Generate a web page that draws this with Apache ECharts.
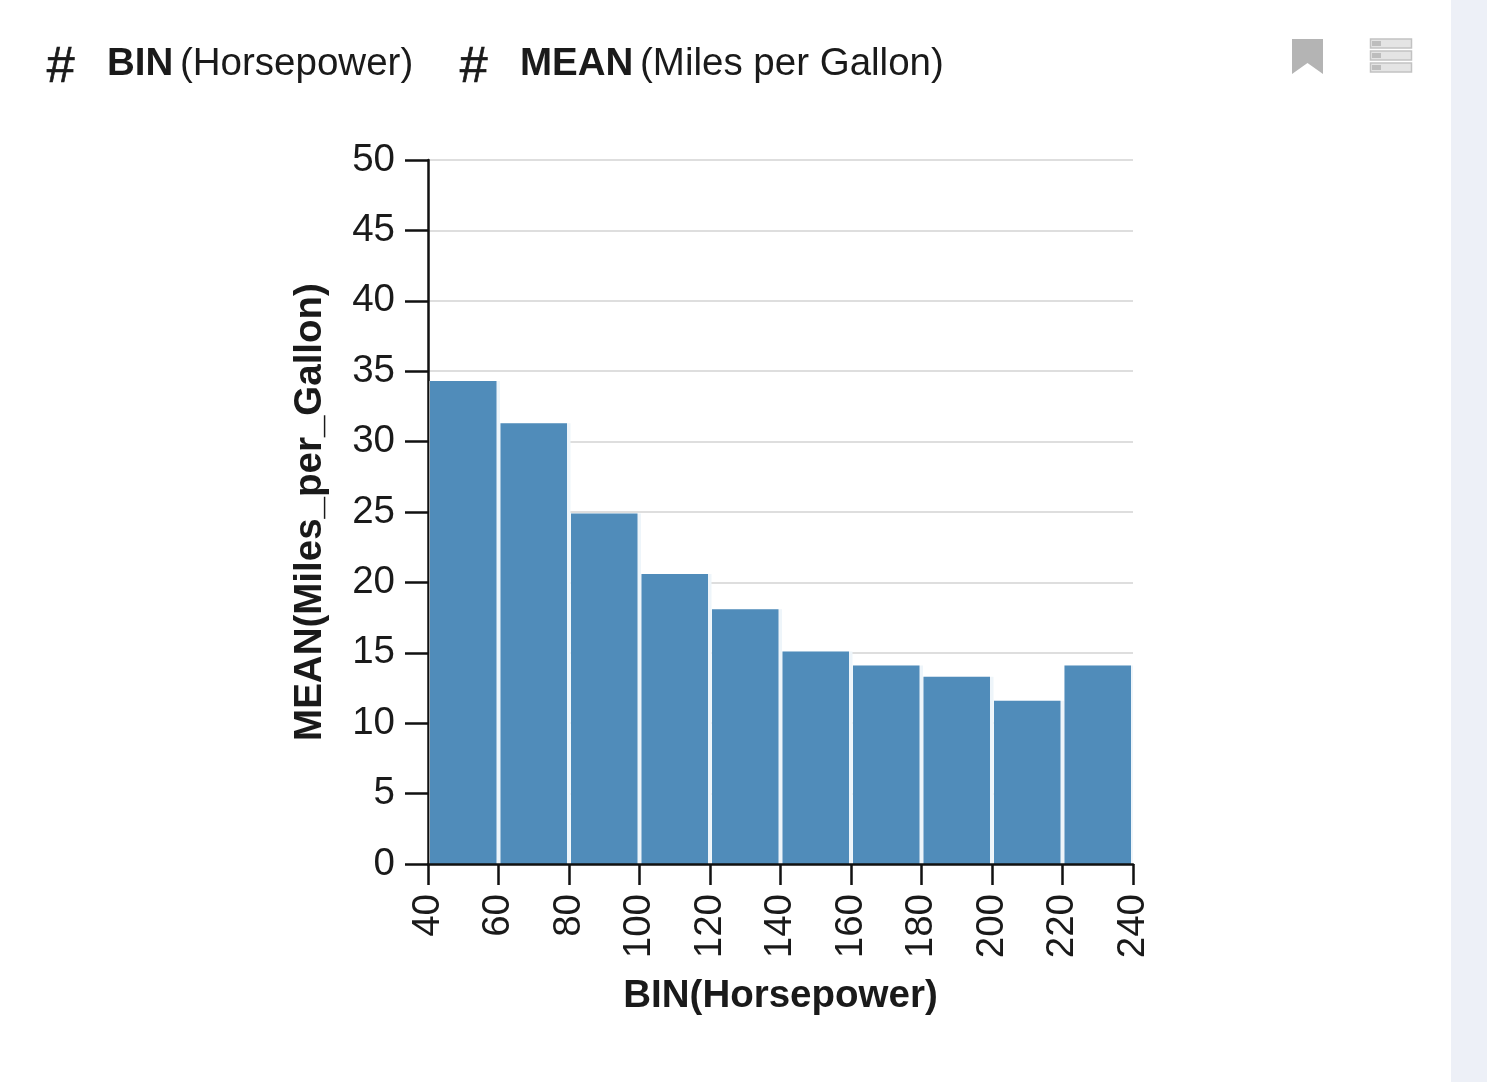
<!DOCTYPE html>
<html>
<head>
<meta charset="utf-8">
<style>html,body{margin:0;padding:0;background:#fff}#c{width:1487px;height:1082px;filter:blur(0.7px)}</style>
<script src="https://cdn.jsdelivr.net/npm/echarts@6/dist/echarts.min.js"></script>
</head>
<body>
<div id="c"></div>
<script>
const binStarts = [40, 60, 80, 100, 120, 140, 160, 180, 200, 220];
const binEnds = [60, 80, 100, 120, 140, 160, 180, 200, 220, 240];
const meanMpg = [34.3, 31.3, 24.9, 20.6, 18.1, 15.1, 14.1, 13.3, 11.6, 14.1];
const xTitle = 'BIN(Horsepower)';
const yTitle = 'MEAN(Miles_per_Gallon)';
const font = '"Liberation Sans", Arial, sans-serif';
const ink = '#1a1a1a';

const chart = echarts.init(document.getElementById('c'), null, {renderer: 'canvas'});
const iconGrey = '#b4b4b4';
function headerText(x, y, text, size, weight, style, strokeWidth) {
  return {type: 'text', x, y, z: 10, style: {text, fill: ink, stroke: strokeWidth ? ink : null, lineWidth: strokeWidth || 0, font: `${style || 'normal'} ${weight} ${size}px ${font}`, textVerticalAlign: 'middle'}};
}
function rowIcon(y) {
  return [
    {type: 'rect', z: 10, shape: {x: 1370.5, y, width: 41, height: 9}, style: {fill: '#e4e4e4', stroke: '#c2c2c2', lineWidth: 1.5}},
    {type: 'rect', z: 10, shape: {x: 1372, y: y + 2, width: 9, height: 5}, style: {fill: '#bdbdbd'}}
  ];
}
chart.setOption({
  animation: false,
  backgroundColor: '#ffffff',
  textStyle: {fontFamily: font},
  grid: {left: 428, right: 354, top: 160, bottom: 218},
  xAxis: {
    type: 'value', min: 40, max: 240, interval: 20, z: 5,
    name: xTitle, nameLocation: 'middle', nameGap: 113,
    nameTextStyle: {fontFamily: font, fontWeight: 'bold', fontSize: 38.5, color: ink},
    axisLine: {show: true, lineStyle: {color: '#111', width: 2.5}},
    axisTick: {show: true, length: 21, lineStyle: {color: '#111', width: 2.5}},
    axisLabel: {rotate: 90, margin: 30, fontSize: 38.5, color: ink, fontFamily: font, hideOverlap: false, showMinLabel: true, showMaxLabel: true},
    splitLine: {show: false}
  },
  yAxis: {
    type: 'value', min: 0, max: 50, interval: 5, z: 1,
    name: yTitle, nameLocation: 'middle', nameGap: 98,
    nameTextStyle: {fontFamily: font, fontWeight: 'bold', fontSize: 38.5, color: ink},
    axisLine: {show: true, lineStyle: {color: '#111', width: 2.5}},
    axisTick: {show: true, length: 23, lineStyle: {color: '#111', width: 2.5}},
    axisLabel: {margin: 33, fontSize: 38.5, color: ink, fontFamily: font, showMinLabel: true, showMaxLabel: true},
    splitLine: {show: true, lineStyle: {color: '#dedede', width: 2}}
  },
  series: [{
    type: 'custom',
    coordinateSystem: 'cartesian2d',
    clip: true,
    encode: {x: [0, 1], y: 2},
    data: binStarts.map((s, i) => [s, binEnds[i], meanMpg[i]]),
    z: 2,
    renderItem(params, api) {
      const a = api.coord([api.value(0), api.value(2)]);
      const b = api.coord([api.value(1), 0]);
      const left = a[0] + 2;
      const right = b[0] - 2;
      const height = b[1] - a[1];
      return {
        type: 'group',
        children: [
          {type: 'rect', shape: {x: a[0] + 1.5, y: a[1], width: b[0] - a[0], height}, style: {fill: '#eef5fa'}},
          {type: 'rect', shape: {x: left, y: a[1], width: right - left, height}, style: {fill: '#508CBA'}}
        ]
      };
    }
  }],
  graphic: {elements: [
    {type: 'rect', z: 9, shape: {x: 1451, y: 0, width: 36, height: 1082}, style: {fill: '#edf0f7'}},
    headerText(46, 68, '#', 50, 'normal', 'italic', 0.7),
    headerText(107, 64, 'BIN', 38.5, 'bold'),
    headerText(180, 64, '(Horsepower)', 38.5, 'normal'),
    headerText(459, 68, '#', 50, 'normal', 'italic', 0.7),
    headerText(520, 64, 'MEAN', 38.5, 'bold'),
    headerText(640, 64, '(Miles per Gallon)', 38.5, 'normal'),
    {type: 'polygon', z: 10, shape: {points: [[1292, 39], [1323, 39], [1323, 74], [1307.5, 63], [1292, 74]]}, style: {fill: iconGrey}},
    ...rowIcon(39), ...rowIcon(51), ...rowIcon(63)
  ]}
});
</script>
</body>
</html>
